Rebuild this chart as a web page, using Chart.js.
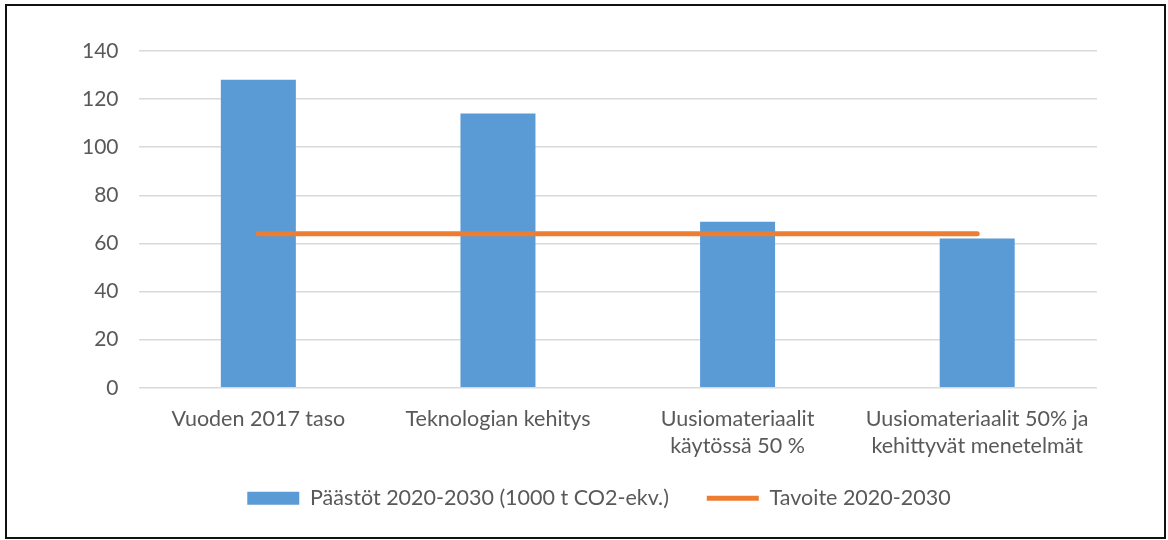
<!DOCTYPE html>
<html>
<head>
<meta charset="utf-8">
<script src="https://cdn.jsdelivr.net/npm/chart.js@4.4.1/dist/chart.umd.min.js"></script>
<style>
  html, body { margin: 0; padding: 0; background: #fff; }
  #wrap { position: relative; width: 1168px; height: 540px; }
  #frame { position: absolute; left: 5px; top: 4px; width: 1157px; height: 531px;
           border: 2px solid #111; pointer-events: none; }
</style>
</head>
<body>
<div id="wrap">
  <canvas id="chart" width="1168" height="540"></canvas>
  <div id="frame"></div>
</div>
<script>
// categories, multi-line where the original wraps
var categories = [
    'Vuoden 2017 taso',
    'Teknologian kehitys',
    ['Uusiomateriaalit', 'käytössä 50 %'],
    ['Uusiomateriaalit 50% ja', 'kehittyvät menetelmät']
];
var emissions = [128, 114, 69, 62];
var target = [64, 64, 64, 64];
var yTicks = { min: 0, max: 140, step: 20 };

var textColor = '#595959';
var fontFamily = 'Lato, "Open Sans", sans-serif';

var ctx = document.getElementById('chart').getContext('2d');
var chart = new Chart(ctx, {
    type: 'bar',
    data: {
        labels: categories,
        datasets: [{
            type: 'bar',
            label: 'Päästöt 2020-2030 (1000 t CO2-ekv.)',
            data: emissions,
            backgroundColor: '#5B9BD5',
            borderWidth: 0,
            categoryPercentage: 1,
            barPercentage: 0.313,
            order: 1
        }, {
            type: 'line',
            label: 'Tavoite 2020-2030',
            data: target,
            borderColor: '#ED7D31',
            backgroundColor: '#ED7D31',
            borderWidth: 5,
            borderCapStyle: 'round',
            pointRadius: 0,
            fill: false,
            order: 0
        }]
    },
    options: {
        responsive: false,
        animation: false,
        layout: { padding: { left: 62, right: 71, top: 51, bottom: 21 } },
        plugins: {
            tooltip: { enabled: false },
            legend: {
                position: 'bottom',
                fullSize: false,
                labels: {
                    color: textColor,
                    font: { family: fontFamily, size: 21.5 },
                    usePointStyle: true,
                    pointStyleWidth: 52,
                    boxWidth: 52,
                    boxHeight: 13,
                    padding: 11,
                    sort: function (a, b) { return a.datasetIndex - b.datasetIndex; },
                    generateLabels: function (c) {
                        var items = Chart.defaults.plugins.legend.labels.generateLabels(c);
                        // spacing tweaks so the items sit where the original has them
                        items.forEach(function (it) {
                            if (it.datasetIndex === 0) {
                                it.pointStyle = 'rect';
                                it.lineWidth = 0;
                                it.text = it.text + '\u2003\u2009\u2009\u2009\u2009';
                            } else {
                                it.pointStyle = 'line';
                                it.lineWidth = 5;
                                it.strokeStyle = '#ED7D31';
                                it.text = it.text + '\u2003\u2003\u2009\u2009';
                            }
                        });
                        return items;
                    }
                }
            }
        },
        scales: {
            x: {
                grid: { display: false, drawTicks: false },
                border: { display: false },
                ticks: {
                    color: textColor,
                    font: { family: fontFamily, size: 21.5, lineHeight: 1.25 },
                    padding: 17.5,
                    maxRotation: 0,
                    autoSkip: false
                }
            },
            y: {
                min: yTicks.min,
                max: yTicks.max,
                border: { display: false },
                grid: { color: '#d9d9d9', lineWidth: 1.5, drawTicks: false },
                ticks: {
                    stepSize: yTicks.step,
                    color: textColor,
                    font: { family: fontFamily, size: 21 },
                    padding: 20
                }
            }
        }
    }
});
</script>
</body>
</html>
